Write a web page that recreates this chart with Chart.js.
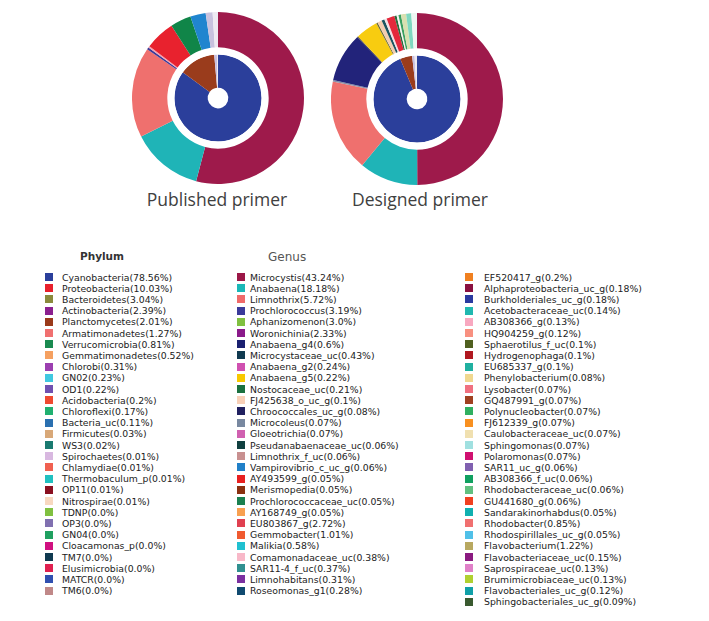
<!DOCTYPE html>
<html>
<head>
<meta charset="utf-8">
<script src="https://cdn.jsdelivr.net/npm/chart.js@4"></script>
<style>
  body { margin: 0; background: #fff; width: 709px; height: 621px; position: relative; overflow: hidden; }
  canvas { position: absolute; }
  .title { position: absolute; width: 200px; text-align: center; font-family: "Open Sans", sans-serif; font-size: 17.5px; color: #404040; }
  .head { position: absolute; font-family: "DejaVu Sans", sans-serif; }
  .row { position: absolute; font-family: "DejaVu Sans", sans-serif; font-size: 9.3px; color: #222; white-space: nowrap; line-height: 11px; }
  .sw { position: absolute; width: 8px; height: 8px; }
</style>
</head>
<body>
<canvas id="publishedChart" width="172" height="172" style="left:132px;top:12px"></canvas>
<canvas id="designedChart" width="172" height="172" style="left:331px;top:13px"></canvas>
<div class="title" style="left:117px;top:187px">Published primer</div>
<div class="title" style="left:320px;top:187px">Designed primer</div>
<div class="head" style="left:80px;top:250px;font-size:10.5px;font-weight:bold;color:#333">Phylum</div>
<div class="head" style="left:268px;top:250px;font-size:12px;color:#555">Genus</div>
<div id="legend"></div>

<script>
// Legend data: phylum
const phylumLabels = ["Cyanobacteria", "Proteobacteria", "Bacteroidetes", "Actinobacteria", "Planctomycetes",
    "Armatimonadetes", "Verrucomicrobia", "Gemmatimonadetes", "Chlorobi", "GN02", "OD1", "Acidobacteria",
    "Chloroflexi", "Bacteria_uc", "Firmicutes", "WS3", "Spirochaetes", "Chlamydiae", "Thermobaculum_p",
    "OP11", "Nitrospirae", "TDNP", "OP3", "GN04", "Cloacamonas_p", "TM7", "Elusimicrobia", "MATCR", "TM6"];
const phylumPct = ["78.56", "10.03", "3.04", "2.39", "2.01", "1.27", "0.81", "0.52", "0.31", "0.23", "0.22", "0.2",
    "0.17", "0.11", "0.03", "0.02", "0.01", "0.01", "0.01", "0.01", "0.01", "0.0", "0.0", "0.0", "0.0", "0.0",
    "0.0", "0.0", "0.0"];
const phylumColors = ["#2b3f9b", "#e8202c", "#8a8a3c", "#8b1f8f", "#9a3a1a", "#f07070", "#1a8a50", "#f5a060",
    "#9b3fb0", "#40c8e0", "#7050b0", "#f04a30", "#20b070", "#2a70b0", "#d8a878", "#1a7a70", "#d8b8e0",
    "#f06050", "#20c0c0", "#8a1020", "#f8d8c0", "#80c040", "#8070b0", "#20a060", "#d01080", "#103a50",
    "#e02050", "#3050b0", "#c08888"];

// Legend data: genus
const genusLabels = ["Microcystis", "Anabaena", "Limnothrix", "Prochlorococcus", "Aphanizomenon", "Woronichinia",
    "Anabaena_g4", "Microcystaceae_uc", "Anabaena_g2", "Anabaena_g5", "Nostocaceae_uc", "FJ425638_o_uc_g",
    "Chroococcales_uc_g", "Microcoleus", "Gloeotrichia", "Pseudanabaenaceae_uc", "Limnothrix_f_uc",
    "Vampirovibrio_c_uc_g", "AY493599_g", "Merismopedia", "Prochlorococcaceae_uc", "AY168749_g", "EU803867_g",
    "Gemmobacter", "Malikia", "Comamonadaceae_uc", "SAR11-4_f_uc", "Limnohabitans", "Roseomonas_g1",
    "EF520417_g", "Alphaproteobacteria_uc_g", "Burkholderiales_uc_g", "Acetobacteraceae_uc", "AB308366_g",
    "HQ904259_g", "Sphaerotilus_f_uc", "Hydrogenophaga", "EU685337_g", "Phenylobacterium", "Lysobacter",
    "GQ487991_g", "Polynucleobacter", "FJ612339_g", "Caulobacteraceae_uc", "Sphingomonas", "Polaromonas",
    "SAR11_uc_g", "AB308366_f_uc", "Rhodobacteraceae_uc", "GU441680_g", "Sandarakinorhabdus", "Rhodobacter",
    "Rhodospirillales_uc_g", "Flavobacterium", "Flavobacteriaceae_uc", "Saprospiraceae_uc",
    "Brumimicrobiaceae_uc", "Flavobacteriales_uc_g", "Sphingobacteriales_uc_g"];
const genusPct = ["43.24", "18.18", "5.72", "3.19", "3.0", "2.33", "0.6", "0.43", "0.24", "0.22", "0.21", "0.1",
    "0.08", "0.07", "0.07", "0.06", "0.06", "0.06", "0.05", "0.05", "0.05", "0.05", "2.72", "1.01", "0.58",
    "0.38", "0.37", "0.31", "0.28",
    "0.2", "0.18", "0.18", "0.14", "0.13", "0.12", "0.1", "0.1", "0.1", "0.08", "0.07", "0.07", "0.07", "0.07",
    "0.07", "0.07", "0.07", "0.06", "0.06", "0.06", "0.06", "0.05", "0.85", "0.05", "1.22", "0.15", "0.13",
    "0.13", "0.12", "0.09"];
const genusColors = ["#9b1747", "#1ab8b8", "#f06a6a", "#3a3a9a", "#80c040", "#8a1a8a", "#1a2070", "#103a50",
    "#d050b0", "#f8c800", "#1a7040", "#f8d0b8", "#202060", "#7888a0", "#d060b0", "#104040", "#c89090",
    "#2080c8", "#e82020", "#8a3010", "#1a8050", "#f8a050", "#e04050", "#f05a30", "#20c0d0", "#f8b8c8",
    "#309090", "#7a30a0", "#104a70",
    "#f08020", "#8a1040", "#2a3aa0", "#20b8b0", "#f8a8c0", "#f89080", "#506020", "#b01820", "#20b0a0",
    "#f0d890", "#f07080", "#a04020", "#30b060", "#f89020", "#f0e0b0", "#a0e0e0", "#d01070", "#8060b0",
    "#10a060", "#60c080", "#f04020", "#10b0b0", "#f07070", "#50c0e8", "#b8a860", "#8a1a80", "#e080c8",
    "#b0d030", "#10a0a8", "#3a5a30"];
const genusFirstColumn = 29;

// Published primer rings (percent of ring, clockwise from top)
const publishedOuterLabels = ["Microcystis", "Anabaena", "Limnothrix", "Prochlorococcus", "Comamonadaceae_uc",
    "AY493599_g", "Prochlorococcaceae_uc", "Vampirovibrio_c_uc_g", "Microcoleus", "AB308366_g"];
const publishedOuter = [54.1, 13.5, 17.0, 0.4, 0.3, 5.6, 3.9, 2.9, 1.3, 1.0];
const publishedOuterColors = ["#9e1a4b", "#1fb4b7", "#ef706e", "#3b3a98", "#f4a0b0", "#e8222e", "#108548",
    "#2085cf", "#c8c2de", "#eeeaf2"];
const publishedInnerLabels = ["Cyanobacteria", "Planctomycetes", "Spirochaetes", "Nitrospirae"];
const publishedInner = [85.0, 13.6, 1.0, 0.4];
const publishedInnerColors = ["#2b3f9b", "#9a3c1c", "#c8c0e0", "#eeeaf2"];

// Designed primer rings
const designedOuterLabels = ["Microcystis", "Anabaena", "Limnothrix", "Microcoleus", "Chroococcales_uc_g",
    "Pseudanabaenaceae_uc", "Anabaena_g5", "Sphaerotilus_f_uc", "FJ425638_o_uc_g", "Microcystaceae_uc",
    "Comamonadaceae_uc", "AY493599_g", "Nostocaceae_uc", "Caulobacteraceae_uc", "Polynucleobacter",
    "Phenylobacterium", "EU685337_g", "Sphingomonas"];
const designedOuter = [50.0, 11.05, 17.3, 0.28, 9.2, 0.2, 4.2, 0.28, 0.83, 0.55, 0.45, 1.5, 0.42, 0.36,
    0.47, 0.97, 0.97, 1.06];
const designedOuterColors = ["#9e1a4b", "#1fb4b7", "#ef706e", "#8890a8", "#22237a", "#30304a", "#f8cc10",
    "#70703a", "#f3cdb0", "#1a5560", "#f4e0e4", "#e4283c", "#2a6a3c", "#f4f4f0", "#3aa060", "#d8e0b0",
    "#7fd8c0", "#eef6f2"];
const designedInnerLabels = ["Cyanobacteria", "Planctomycetes", "Spirochaetes", "Nitrospirae"];
const designedInner = [93.7, 4.5, 0.9, 0.9];
const designedInnerColors = ["#2b3f9b", "#9a3c1c", "#c8c0e0", "#eeeaf2"];

// Build a two-ring doughnut with a white spacer ring in between
function drawRings(canvasId, outer, outerLabels, outerColors, inner, innerLabels, innerColors) {
    const ctx = document.getElementById(canvasId).getContext("2d");
    new Chart(ctx, {
        type: "doughnut",
        data: {
            labels: outerLabels,
            datasets: [
                { data: outer, labels: outerLabels, backgroundColor: outerColors, borderWidth: 0, weight: 35 },
                { data: [1], backgroundColor: "#ffffff", borderWidth: 0, weight: 7 },
                { data: inner, labels: innerLabels, backgroundColor: innerColors, borderWidth: 0, weight: 33 }
            ]
        },
        options: {
            responsive: false,
            animation: false,
            cutout: "12%",
            layout: { padding: 0 },
            plugins: { legend: { display: false }, tooltip: { enabled: false } }
        }
    });
}

drawRings("publishedChart", publishedOuter, publishedOuterLabels, publishedOuterColors,
    publishedInner, publishedInnerLabels, publishedInnerColors);
drawRings("designedChart", designedOuter, designedOuterLabels, designedOuterColors,
    designedInner, designedInnerLabels, designedInnerColors);

// Legend rows
const legend = document.getElementById("legend");
const rowTop = 271.5;
const rowStep = 11.2;

function addRow(label, pct, color, swatchX, textX, i) {
    const y = rowTop + i * rowStep;
    const sw = document.createElement("div");
    sw.className = "sw";
    sw.style.left = swatchX + "px";
    sw.style.top = (y + 1.5) + "px";
    sw.style.background = color;
    legend.appendChild(sw);

    const row = document.createElement("div");
    row.className = "row";
    row.style.left = textX + "px";
    row.style.top = y + "px";
    row.textContent = label + "(" + pct + "%)";
    legend.appendChild(row);
}

phylumLabels.forEach((name, i) => addRow(name, phylumPct[i], phylumColors[i], 45, 62, i));
genusLabels.forEach((name, i) => {
    if (i < genusFirstColumn) {
        addRow(name, genusPct[i], genusColors[i], 237, 250, i);
    } else {
        addRow(name, genusPct[i], genusColors[i], 465, 484, i - genusFirstColumn);
    }
});
</script>
</body>
</html>
